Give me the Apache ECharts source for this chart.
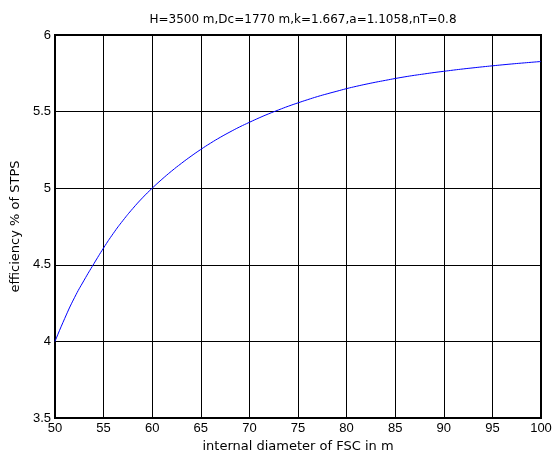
<!DOCTYPE html>
<html>
<head>
<meta charset="utf-8">
<script src="https://cdn.jsdelivr.net/npm/echarts@6/dist/echarts.min.js"></script>
<style>
  html, body { margin: 0; padding: 0; background: #fff; }
  #main { width: 555px; height: 460px; }
</style>
</head>
<body>
<div id="main"></div>
<script>
// 内径 (m)
var diameters = [50, 51, 52, 53, 54, 55, 56, 57, 58, 59, 60, 61, 62, 63, 64, 65, 66, 67, 68, 69, 70,
  71, 72, 73, 74, 75, 76, 77, 78, 79, 80, 81, 82, 83, 84, 85, 86, 87, 88, 89, 90,
  91, 92, 93, 94, 95, 96, 97, 98, 99, 100];
// 效率 %
var efficiency = [4.00, 4.15, 4.285, 4.40, 4.507, 4.61, 4.705, 4.79, 4.867, 4.937, 5.00,
  5.058, 5.112, 5.162, 5.209, 5.253, 5.294, 5.332, 5.367, 5.40, 5.43,
  5.459, 5.486, 5.511, 5.535, 5.557, 5.578, 5.598, 5.616, 5.633, 5.65,
  5.665, 5.679, 5.692, 5.704, 5.716, 5.727, 5.737, 5.746, 5.755, 5.763,
  5.771, 5.7785, 5.7855, 5.7923, 5.7988, 5.805, 5.811, 5.8165, 5.8218, 5.827];

var titleText = 'H=3500 m,Dc=1770 m,k=1.667,a=1.1058,nT=0.8';
var xName = 'internal diameter of FSC in m';
var yName = 'efficiency % of STPS';

var points = diameters.map(function (d, i) { return [d, efficiency[i]]; });

var myChart = echarts.init(document.getElementById('main'));
var font = 'Liberation Sans, Arial, sans-serif';
var wideFont = 'DejaVu Sans, sans-serif';
option = {
  animation: false,
  backgroundColor: '#fff',
  title: {
    text: titleText,
    left: 298,
    textAlign: 'center',
    top: 9,
    textStyle: { fontFamily: wideFont, fontSize: 12, fontWeight: 'normal', color: '#000' }
  },
  grid: {
    left: 55, right: 14, top: 35, bottom: 42,
    show: true, borderColor: '#000', borderWidth: 2
  },
  xAxis: {
    type: 'value',
    min: 50, max: 100, interval: 5,
    name: xName,
    nameLocation: 'middle',
    nameGap: 21,
    nameTextStyle: { fontFamily: wideFont, fontSize: 13, color: '#000' },
    axisLine: { show: false },
    axisTick: { show: false },
    axisLabel: { fontFamily: font, fontSize: 13, color: '#000', margin: 4 },
    splitLine: { show: true, lineStyle: { color: '#000', width: 1 } }
  },
  yAxis: {
    type: 'value',
    min: 3.5, max: 6, interval: 0.5,
    name: yName,
    nameLocation: 'middle',
    nameGap: 33,
    nameTextStyle: { fontFamily: wideFont, fontSize: 13, color: '#000' },
    axisLine: { show: false },
    axisTick: { show: false },
    axisLabel: { fontFamily: font, fontSize: 13, color: '#000', margin: 4 },
    splitLine: { show: true, lineStyle: { color: '#000', width: 1 } }
  },
  series: [{
    type: 'line',
    data: points,
    showSymbol: false,
    smooth: true,
    lineStyle: { color: '#0000ff', width: 1 },
    itemStyle: { color: '#0000ff' }
  }]
};
myChart.setOption(option);
</script>
</body>
</html>
